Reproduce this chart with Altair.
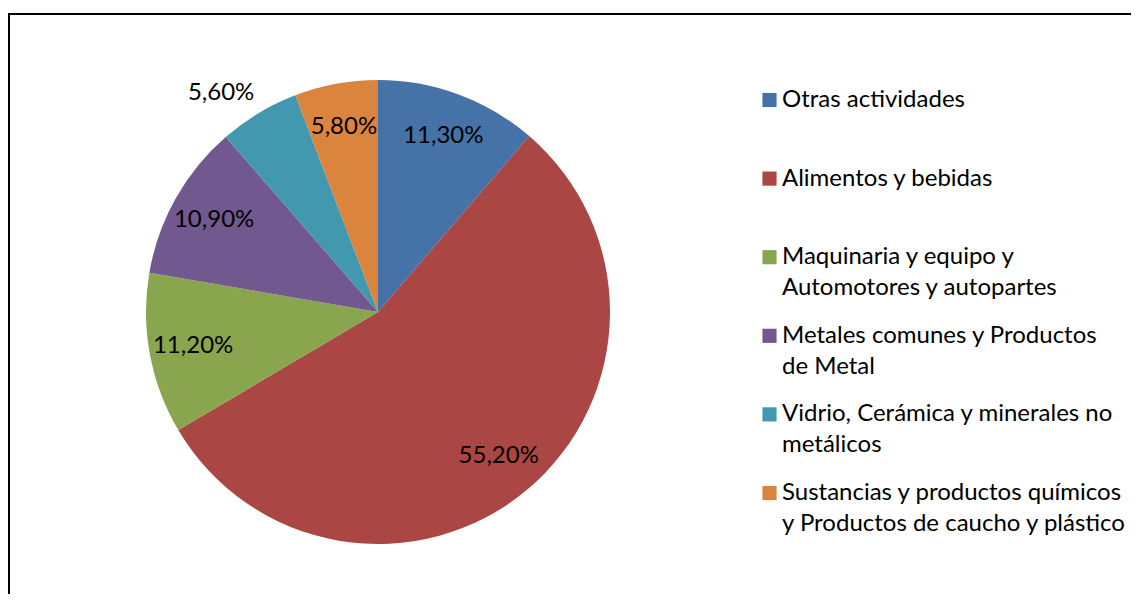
import altair as alt
import pandas as pd

categories = [
    "Otras actividades",
    "Alimentos y bebidas",
    "Maquinaria y equipo y Automotores y autopartes",
    "Metales comunes y Productos de Metal",
    "Vidrio, Cerámica y minerales no metálicos",
    "Sustancias y productos químicos y Productos de caucho y plástico",
]
values = [11.3, 55.2, 11.2, 10.9, 5.6, 5.8]
value_labels = ["11,30%", "55,20%", "11,20%", "10,90%", "5,60%", "5,80%"]
legend_line1 = [
    "Otras actividades",
    "Alimentos y bebidas",
    "Maquinaria y equipo y",
    "Metales comunes y Productos",
    "Vidrio, Cerámica y minerales no",
    "Sustancias y productos químicos",
]
legend_line2 = [
    "",
    "",
    "Automotores y autopartes",
    "de Metal",
    "metálicos",
    "y Productos de caucho y plástico",
]
colors = ["#4572A7", "#AA4643", "#89A54E", "#71588F", "#4198AF", "#DB843D"]
outside_label = "Vidrio, Cerámica y minerales no metálicos"

FONT = "Lato"
FS = 24
W = 1123
H = 586

df = pd.DataFrame({
    "cat": categories,
    "value": values,
    "label": value_labels,
    "line1": legend_line1,
    "line2": legend_line2,
    "idx": list(range(len(categories))),
})

color = alt.Color("cat:N", scale=alt.Scale(domain=categories, range=colors), legend=None)
order = alt.Order("idx:Q", sort="ascending")
theta = alt.Theta("value:Q", stack=True)

cx = alt.value(370)
cy = alt.value(304)

pie = alt.Chart(df).mark_arc(outerRadius=232).encode(
    theta=theta, color=color, order=order, x=cx, y=cy
)

inside = alt.Chart(df).transform_calculate(
    shown=f"datum.cat == '{outside_label}' ? '' : datum.label"
).mark_text(radius=188, font=FONT, fontSize=FS, color="black").encode(
    theta=theta, order=order, text="shown:N", x=cx, y=cy
)

outside = alt.Chart(df).transform_calculate(
    shown=f"datum.cat == '{outside_label}' ? datum.label : ''"
).mark_text(radius=268, dx=-19, dy=11, font=FONT, fontSize=FS, color="black").encode(
    theta=theta, order=order, text="shown:N", x=cx, y=cy
)

ly = alt.Y("cat:N", sort=categories,
           scale=alt.Scale(type="point", domain=categories, range=[92, 485], padding=0),
           axis=None)

leg_sym = alt.Chart(df).mark_square(size=200, opacity=1).encode(
    x=alt.value(761.5), y=ly, color=color
)
leg_t1 = alt.Chart(df).mark_text(align="left", baseline="middle", font=FONT, fontSize=FS,
                                 color="black").encode(
    x=alt.value(774), y=ly, text="line1:N"
)
leg_t2 = alt.Chart(df).mark_text(align="left", baseline="middle", dy=31, font=FONT,
                                 fontSize=FS, color="black").encode(
    x=alt.value(774), y=ly, text="line2:N"
)

frame_df = pd.DataFrame({"a": [0]})
top_rule = alt.Chart(frame_df).mark_rule(color="black", strokeWidth=2).encode(
    x=alt.value(0), x2=alt.value(W), y=alt.value(6)
)
left_rule = alt.Chart(frame_df).mark_rule(color="black", strokeWidth=2).encode(
    x=alt.value(1), y=alt.value(5), y2=alt.value(H)
)

chart = alt.layer(
    pie, inside, outside, leg_sym, leg_t1, leg_t2, top_rule, left_rule
).properties(
    width=W, height=H, padding=0, autosize=alt.AutoSizeParams(type="none"),
    background="white"
).configure_view(stroke=None)

chart.save("out.html", embed_options={"renderer": "svg", "actions": False})
